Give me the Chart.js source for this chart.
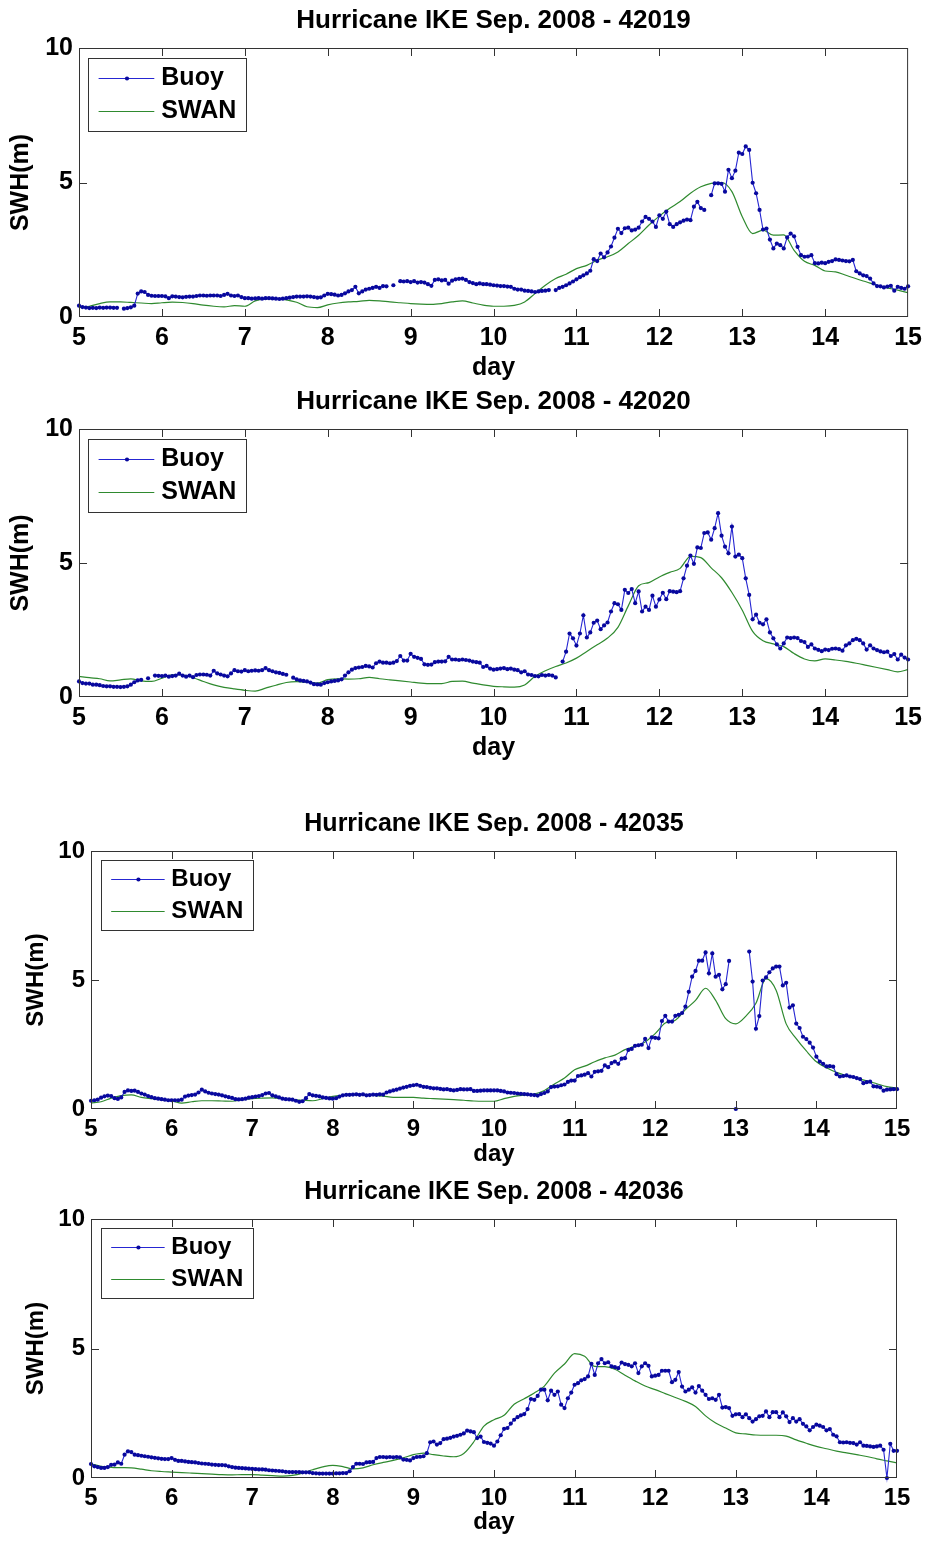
<!DOCTYPE html>
<html>
<head>
<meta charset="utf-8">
<title>Hurricane IKE Sep. 2008 - SWH</title>
<script src="https://cdn.jsdelivr.net/npm/chart.js@4.4.1/dist/chart.umd.min.js"></script>
<style>
  body { margin: 0; background: #fff; }
  #fig { position: relative; width: 928px; height: 1542px; background: #fff; }
  #fig canvas { position: absolute; left: 0; }
</style>
</head>
<body>
<div id="fig">
  <canvas id="c42019" width="928" height="385" style="top:0px"></canvas>
  <canvas id="c42020" width="928" height="390" style="top:385px"></canvas>
  <canvas id="c42035" width="928" height="397" style="top:775px"></canvas>
  <canvas id="c42036" width="928" height="370" style="top:1172px"></canvas>
</div>
<script>
var FONT = "'Liberation Sans', Arial, Helvetica, sans-serif";
Chart.defaults.font.family = FONT;
Chart.defaults.font.weight = 'bold';
Chart.defaults.color = '#000';

var START_DAY = 5;
var BUOY_STEP = 1 / 24;   // hourly buoy record
var SWAN_STEP = 1 / 8;    // 3-hourly SWAN output

var dayTicks = [5, 6, 7, 8, 9, 10, 11, 12, 13, 14, 15];
var swhTicks = [0, 5, 10];

// ---- station 42019 ----
var buoy42019 = [
  0.42,0.37,0.35,0.33,0.34,0.33,0.35,0.34,0.35,0.35,0.34,0.34,null,0.31,0.33,0.36,0.42,0.87,0.95,0.93,0.82,0.79,0.78,0.78,
  0.78,0.77,0.70,0.77,0.76,0.74,0.73,0.75,0.76,0.76,0.78,0.80,0.80,0.79,0.80,0.80,0.80,0.78,0.82,0.86,0.80,0.78,0.80,0.74,
  0.70,0.70,0.68,0.69,0.70,0.68,0.70,0.70,0.69,0.68,0.67,0.68,0.70,0.72,0.74,0.76,0.76,0.76,0.77,0.76,0.74,0.72,0.73,0.80,
  0.86,0.85,0.83,0.80,0.82,0.88,0.95,1.00,1.12,0.88,0.95,1.02,1.05,1.08,1.12,1.08,1.15,1.14,null,1.18,null,1.33,1.32,1.33,
  1.30,1.33,1.28,1.30,1.28,1.22,1.16,1.38,1.40,1.36,1.38,1.24,1.35,1.40,1.42,1.43,1.38,1.30,1.26,1.22,1.25,1.22,1.22,1.20,
  1.18,1.17,1.15,1.15,1.13,1.12,1.05,1.02,1.02,0.98,0.97,0.95,0.93,0.95,0.97,0.98,1.00,null,1.00,1.08,1.12,1.18,1.25,1.32,
  1.40,1.48,1.55,1.62,1.72,2.15,2.08,2.36,2.22,2.40,2.62,2.95,3.28,3.12,3.30,3.32,3.22,3.25,3.32,3.55,3.72,3.65,3.55,3.35,
  3.78,3.65,3.92,3.45,3.35,3.45,3.52,3.58,3.62,3.60,4.10,4.28,4.05,3.98,null,4.53,4.97,4.97,4.95,4.66,5.47,5.16,5.44,6.11,
  6.06,6.34,6.21,4.99,4.60,3.98,3.25,3.29,2.88,2.55,2.73,2.67,2.55,2.96,3.10,3.00,2.61,2.30,2.24,2.25,2.30,2.00,1.99,2.02,
  2.00,2.05,2.08,2.14,2.12,2.10,2.08,2.07,2.12,1.70,1.62,1.55,1.52,1.43,1.25,1.15,1.14,1.10,1.13,1.16,0.98,1.12,1.08,1.05,
  1.14
];
var swan42019 = [
  0.35,0.40,0.50,0.56,0.56,0.54,0.52,0.50,
  0.53,0.55,0.54,0.50,0.44,0.40,0.38,0.42,
  0.40,0.60,0.67,0.68,0.64,0.55,0.38,0.35,
  0.45,0.52,0.56,0.58,0.62,0.60,0.56,0.53,
  0.50,0.48,0.47,0.50,0.56,0.60,0.52,0.44,
  0.40,0.40,0.43,0.56,0.87,1.18,1.43,1.59,
  1.80,1.92,2.11,2.24,2.42,2.73,3.04,3.42,
  3.75,4.04,4.29,4.60,4.84,4.97,5.00,4.66,
  3.73,3.10,3.23,3.04,3.05,2.48,2.07,1.92,
  1.71,1.68,1.55,1.42,1.30,1.18,1.08,1.00,
  0.90
];

// ---- station 42020 ----
var buoy42020 = [
  0.58,0.52,0.50,0.50,0.46,0.46,0.44,0.41,0.40,0.40,0.38,0.38,0.37,0.38,0.40,0.46,0.55,0.62,0.64,null,0.70,null,0.80,0.79,
  0.78,0.80,0.76,0.78,0.80,0.87,0.80,0.76,0.80,0.74,0.82,0.84,0.84,0.83,0.80,0.98,0.88,0.84,0.80,0.77,0.88,1.00,0.96,0.95,
  1.00,0.96,0.98,0.99,0.98,1.00,1.08,1.00,0.96,0.92,0.90,0.86,0.83,null,0.72,0.66,0.62,0.60,0.58,0.54,0.48,0.47,0.46,0.52,
  0.55,0.58,0.60,0.62,0.66,0.80,0.92,1.02,1.08,1.10,1.12,1.16,1.14,1.10,1.26,1.32,1.28,1.28,1.26,1.28,1.34,1.53,1.36,1.36,
  1.61,1.50,1.46,1.42,1.22,1.20,1.21,1.30,1.32,1.32,1.33,1.50,1.40,1.40,1.38,1.40,1.38,1.36,1.32,1.30,1.28,1.12,1.16,1.06,
  1.02,1.04,1.06,1.08,1.04,1.06,1.02,1.00,0.92,0.96,0.84,0.82,0.78,0.77,0.82,0.80,0.82,0.80,0.73,null,1.32,1.69,2.37,2.19,
  1.92,2.37,3.05,2.22,2.41,2.77,2.85,2.53,2.67,2.78,3.19,3.50,3.46,3.25,4.00,3.88,4.03,3.50,3.94,3.19,3.37,3.25,3.78,3.37,
  3.64,3.89,3.65,3.95,3.93,3.91,3.95,4.43,4.90,5.28,4.97,5.58,5.56,6.12,6.14,5.87,6.30,6.86,6.02,5.61,5.36,6.36,5.24,5.31,
  5.18,4.43,3.81,2.90,3.07,2.77,2.71,2.90,2.41,2.19,1.96,1.81,2.00,2.22,2.20,2.22,2.20,2.09,2.05,1.87,1.96,1.81,1.76,1.71,
  1.77,1.75,1.80,1.81,1.79,1.73,1.93,2.00,2.12,2.17,2.12,2.00,1.77,1.93,1.81,1.75,1.70,1.67,1.69,1.53,1.60,1.40,1.58,1.47,
  1.40
];
var swan42020 = [
  0.77,0.72,0.68,0.60,0.64,0.68,0.60,0.58,
  0.70,0.83,0.82,0.72,0.58,0.45,0.36,0.30,
  0.25,0.22,0.33,0.44,0.54,0.57,0.55,0.52,
  0.65,0.68,0.67,0.68,0.73,0.68,0.64,0.60,
  0.56,0.52,0.50,0.50,0.58,0.59,0.52,0.45,
  0.40,0.38,0.37,0.45,0.77,0.98,1.14,1.27,
  1.45,1.70,1.95,2.20,2.60,3.40,4.15,4.27,
  4.48,4.65,4.80,5.25,5.20,4.82,4.45,3.90,
  3.24,2.45,2.10,1.98,1.88,1.62,1.42,1.35,
  1.42,1.38,1.33,1.26,1.18,1.10,1.02,0.94,
  1.02
];

// ---- station 42035 ----
var buoy42035 = [
  0.32,0.34,0.36,0.44,0.49,0.52,0.50,0.42,0.39,0.45,0.66,0.72,0.70,0.71,0.66,0.60,0.56,0.50,0.46,0.42,0.40,0.38,0.36,0.34,
  0.34,0.34,0.34,0.36,0.48,0.52,0.54,0.56,0.64,0.75,0.68,0.63,0.60,0.58,0.56,0.53,0.49,0.46,0.43,0.38,0.37,0.38,0.40,0.44,
  0.46,0.48,0.50,0.54,0.60,0.62,0.53,0.49,0.45,0.40,0.38,0.37,0.36,0.32,0.28,0.30,0.42,0.58,0.53,0.51,0.49,0.45,0.43,0.41,
  0.40,0.42,0.48,0.53,0.55,0.55,0.56,0.57,0.55,0.57,0.53,0.54,0.56,0.55,0.57,0.56,0.64,0.68,0.72,0.75,0.79,0.83,0.86,0.90,
  0.92,0.94,0.90,0.86,0.85,0.82,0.80,0.80,0.78,0.76,0.77,0.74,0.72,0.74,0.77,0.76,0.76,0.77,0.70,0.70,0.71,0.72,0.72,0.72,
  0.72,0.72,0.70,0.68,0.64,0.63,0.62,0.60,0.59,0.58,0.57,0.55,0.54,0.52,0.58,0.62,0.68,0.85,0.87,0.88,0.92,0.95,1.05,1.10,
  1.10,1.28,1.30,1.33,1.39,1.26,1.44,1.46,1.48,1.69,1.62,1.78,1.84,1.75,1.95,1.97,2.29,2.33,2.45,2.47,2.49,2.72,2.36,2.78,
  2.76,2.74,3.41,3.61,3.39,3.39,3.61,3.65,3.72,3.97,4.54,5.13,5.35,5.75,5.75,6.07,5.26,6.03,5.13,5.20,4.64,4.84,5.74,null,
  0.00,null,null,null,6.10,4.94,3.11,3.60,4.98,5.10,5.30,5.45,5.52,5.52,4.79,4.89,3.93,4.02,3.31,3.14,2.80,2.71,2.57,2.38,
  2.03,1.84,1.75,1.65,1.66,1.64,1.35,1.26,1.28,1.30,1.26,1.24,1.20,1.16,1.00,1.04,1.06,0.88,0.87,0.84,0.71,0.75,0.76,0.77,
  0.77
];
var swan42035 = [
  0.23,0.28,0.42,0.52,0.55,0.45,0.40,0.36,
  0.32,0.23,0.28,0.32,0.32,0.31,0.30,0.35,
  0.40,0.42,0.43,0.40,0.36,0.34,0.32,0.40,
  0.49,0.53,0.55,0.55,0.53,0.50,0.45,0.45,
  0.45,0.42,0.40,0.38,0.36,0.34,0.31,0.30,
  0.30,0.40,0.49,0.54,0.58,0.72,0.97,1.20,
  1.52,1.66,1.83,1.98,2.09,2.30,2.44,2.60,
  2.92,3.33,3.44,3.85,4.21,4.68,4.21,3.50,
  3.30,3.60,4.10,5.05,4.60,3.30,2.73,2.25,
  1.83,1.60,1.42,1.29,1.19,1.09,0.98,0.87,
  0.81
];

// ---- station 42036 ----
var buoy42036 = [
  0.54,0.45,0.42,0.39,0.39,0.42,0.51,0.52,0.60,0.55,0.90,1.03,1.00,0.90,0.88,0.86,0.84,0.82,0.80,0.78,0.76,0.74,0.73,0.73,
  0.77,0.70,0.66,0.66,0.64,0.62,0.61,0.60,0.58,0.56,0.55,0.54,0.52,0.51,0.50,0.50,0.49,0.45,0.42,0.40,0.39,0.38,0.37,0.36,
  0.35,0.34,0.33,0.33,0.32,0.30,0.29,0.28,0.27,0.26,0.24,0.23,0.23,0.23,0.23,0.22,0.22,0.22,0.19,0.18,0.17,0.17,0.17,0.17,
  0.17,0.18,0.18,0.19,0.19,0.26,0.42,0.55,0.55,0.54,0.60,0.61,0.62,0.77,0.81,0.81,0.80,0.81,0.80,0.81,0.80,0.71,0.70,0.68,
  0.77,0.81,0.82,0.84,0.96,1.38,1.41,1.29,1.35,1.50,1.52,1.55,1.60,1.63,1.67,1.72,1.83,1.80,1.77,1.54,1.60,1.39,1.36,1.33,
  1.25,1.41,1.65,1.90,1.93,2.10,2.25,2.35,2.42,2.47,2.66,3.05,3.02,3.17,3.41,3.41,3.00,3.37,3.21,3.34,2.83,2.70,3.08,3.30,
  3.60,3.66,3.77,3.82,3.92,4.41,3.98,4.43,4.59,4.43,4.47,4.31,4.28,4.24,4.46,4.40,4.37,4.31,4.43,4.05,4.31,4.43,4.33,3.92,
  3.95,3.98,4.14,4.14,4.14,3.70,3.79,4.09,3.53,3.34,3.41,3.50,3.30,3.55,3.37,3.21,3.05,3.08,3.02,3.21,2.72,2.74,2.70,2.40,
  2.46,2.47,2.35,2.46,2.31,2.18,2.27,2.38,2.40,2.57,2.35,2.54,2.54,2.35,2.53,2.38,2.16,2.31,2.18,2.27,2.09,1.99,1.84,1.97,
  2.06,2.02,1.97,1.84,1.89,1.67,1.61,1.38,1.37,1.38,1.36,1.35,1.29,1.38,1.25,1.24,1.22,1.20,1.22,1.25,1.09,0.00,1.32,1.05,
  1.05
];
var swan42036 = [
  0.55,0.45,0.41,0.40,0.39,0.34,0.28,0.25,
  0.23,0.21,0.19,0.17,0.15,0.13,0.12,0.13,
  0.13,0.11,0.09,0.07,0.10,0.19,0.32,0.43,
  0.49,0.44,0.35,0.39,0.51,0.60,0.68,0.78,
  0.90,0.96,0.90,0.85,0.82,0.95,1.40,2.00,
  2.25,2.42,2.85,3.06,3.28,3.55,4.05,4.40,
  4.80,4.70,4.31,4.30,4.20,3.97,3.75,3.55,
  3.41,3.26,3.11,2.96,2.76,2.40,2.12,1.93,
  1.74,1.70,1.66,1.65,1.65,1.62,1.47,1.34,
  1.22,1.13,1.04,0.97,0.90,0.83,0.74,0.66,
  0.58
];

var BUOY_LINE = '#2626d2';
var BUOY_DOT = '#08089e';
var SWAN_LINE = '#2f8a2f';
var AXIS_COLOR = '#333';
var TICK_LEN = 8;

// page layout of each subplot (canvas band + axes box in page pixels)
var panels = [
  { canvas: 'c42019', title: 'Hurricane IKE Sep. 2008 - 42019', buoy: buoy42019, swan: swan42019,
    canvasTop: 0, canvasH: 385, left: 79, right: 912, top: 48, bottom: 317,
    font: 25, titleFont: 26, yTitlePad: 6.6, dayPad: 1.7, legendDx: 9, legendDy: 10 },
  { canvas: 'c42020', title: 'Hurricane IKE Sep. 2008 - 42020', buoy: buoy42020, swan: swan42020,
    canvasTop: 385, canvasH: 390, left: 79, right: 912, top: 429, bottom: 697,
    font: 25, titleFont: 26, yTitlePad: 6.6, dayPad: 12, legendDx: 9, legendDy: 10 },
  { canvas: 'c42035', title: 'Hurricane IKE Sep. 2008 - 42035', buoy: buoy42035, swan: swan42035,
    canvasTop: 775, canvasH: 397, left: 91, right: 897, top: 851, bottom: 1109,
    font: 24, titleFont: 25, yTitlePad: 22.3, dayPad: 3.2, legendDx: 9.5, legendDy: 9.3 },
  { canvas: 'c42036', title: 'Hurricane IKE Sep. 2008 - 42036', buoy: buoy42036, swan: swan42036,
    canvasTop: 1172, canvasH: 370, left: 91, right: 897, top: 1219, bottom: 1478,
    font: 24, titleFont: 25, yTitlePad: 22.3, dayPad: 4.9, legendDx: 9.5, legendDy: 9.3 }
];

function toPoints(values, step) {
  return values.map(function (v, i) {
    return { x: START_DAY + i * step, y: v };
  });
}

// boxed axes with inward ticks, the title above and the legend inside
var matlabFrame = {
  id: 'matlabFrame',
  afterDraw: function (chart, args, opts) {
    var ctx = chart.ctx;
    var a = chart.chartArea;
    var xs = chart.scales.x;
    var ys = chart.scales.y;

    ctx.save();
    ctx.strokeStyle = AXIS_COLOR;
    ctx.lineWidth = 1;
    ctx.strokeRect(a.left + 0.5, a.top + 0.5, a.right - a.left - 1, a.bottom - a.top - 1);

    ctx.beginPath();
    xs.ticks.forEach(function (t) {
      if (t.value <= xs.min || t.value >= xs.max) return;
      var px = Math.round(xs.getPixelForValue(t.value)) + 0.5;
      ctx.moveTo(px, a.bottom);
      ctx.lineTo(px, a.bottom - TICK_LEN);
      ctx.moveTo(px, a.top);
      ctx.lineTo(px, a.top + TICK_LEN);
    });
    ys.ticks.forEach(function (t) {
      if (t.value <= ys.min || t.value >= ys.max) return;
      var py = Math.round(ys.getPixelForValue(t.value)) + 0.5;
      ctx.moveTo(a.left, py);
      ctx.lineTo(a.left + TICK_LEN, py);
      ctx.moveTo(a.right, py);
      ctx.lineTo(a.right - TICK_LEN, py);
    });
    ctx.stroke();

    // title
    ctx.fillStyle = '#000';
    ctx.font = 'bold ' + opts.titleFont + 'px ' + FONT;
    ctx.textAlign = 'center';
    ctx.textBaseline = 'alphabetic';
    ctx.fillText(opts.title, (a.left + a.right) / 2, a.top - 20.5);

    // legend
    var k = opts.font / 25;
    var bx = Math.round(a.left + opts.legendDx);
    var by = Math.round(a.top + opts.legendDy);
    var bw = Math.round(158 * k);
    var bh = Math.round(73 * k);
    ctx.fillStyle = '#fff';
    ctx.fillRect(bx, by, bw, bh);
    ctx.strokeStyle = AXIS_COLOR;
    ctx.lineWidth = 1;
    ctx.strokeRect(bx + 0.5, by + 0.5, bw, bh);

    ctx.font = 'bold ' + opts.font + 'px ' + FONT;
    ctx.textAlign = 'left';
    ctx.textBaseline = 'middle';
    chart.data.datasets.forEach(function (ds, i) {
      var rowY = Math.round(by + (i === 0 ? 20 : 52.7) * k) + 0.5;
      ctx.strokeStyle = ds.borderColor;
      ctx.lineWidth = ds.borderWidth;
      ctx.beginPath();
      ctx.moveTo(bx + 10.6 * k, rowY);
      ctx.lineTo(bx + 66.3 * k, rowY);
      ctx.stroke();
      if (ds.pointRadius > 0) {
        ctx.fillStyle = ds.pointBackgroundColor;
        ctx.beginPath();
        ctx.arc(bx + 39 * k, rowY, ds.pointRadius, 0, Math.PI * 2);
        ctx.fill();
      }
      ctx.fillStyle = '#000';
      ctx.fillText(ds.label, bx + 73.3 * k, rowY);
    });
    ctx.restore();
  }
};

function drawPanel(p) {
  var canvasElem = document.getElementById(p.canvas);
  var xAxisH = p.canvasH - (p.bottom - p.canvasTop);

  return new Chart(canvasElem.getContext('2d'), {
    type: 'line',
    data: {
      datasets: [
        {
          label: 'Buoy',
          data: toPoints(p.buoy, BUOY_STEP),
          borderColor: BUOY_LINE,
          borderWidth: 1.1,
          pointRadius: 2.1,
          pointBackgroundColor: BUOY_DOT,
          pointBorderWidth: 0,
          pointHoverRadius: 2.1,
          tension: 0,
          spanGaps: false,
          clip: false
        },
        {
          label: 'SWAN',
          data: toPoints(p.swan, SWAN_STEP),
          borderColor: SWAN_LINE,
          borderWidth: 1.2,
          pointRadius: 0,
          cubicInterpolationMode: 'monotone'
        }
      ]
    },
    options: {
      responsive: false,
      animation: false,
      devicePixelRatio: 1,
      layout: {
        padding: { left: 0, right: 928 - p.right, top: p.top - p.canvasTop, bottom: 0 }
      },
      plugins: {
        legend: { display: false },
        tooltip: { enabled: false },
        matlabFrame: {
          title: p.title, titleFont: p.titleFont, font: p.font,
          legendDx: p.legendDx, legendDy: p.legendDy
        }
      },
      scales: {
        x: {
          type: 'linear',
          min: dayTicks[0],
          max: dayTicks[dayTicks.length - 1],
          afterBuildTicks: function (scale) {
            scale.ticks = dayTicks.map(function (v) { return { value: v }; });
          },
          afterFit: function (scale) { scale.height = xAxisH; },
          grid: { display: false, drawTicks: false },
          border: { display: false },
          ticks: {
            autoSkip: false, maxRotation: 0, padding: 6,
            color: '#000', font: { size: p.font, weight: 'bold' }
          },
          title: {
            display: true, text: 'day', color: '#000',
            font: { size: p.font, weight: 'bold' },
            padding: { top: 0, bottom: p.dayPad }
          }
        },
        y: {
          type: 'linear',
          min: swhTicks[0],
          max: swhTicks[swhTicks.length - 1],
          afterBuildTicks: function (scale) {
            scale.ticks = swhTicks.map(function (v) { return { value: v }; });
          },
          afterFit: function (scale) { scale.width = p.left; },
          grid: { display: false, drawTicks: false },
          border: { display: false },
          ticks: {
            padding: 6,
            color: '#000', font: { size: p.font, weight: 'bold' }
          },
          title: {
            display: true, text: 'SWH(m)', color: '#000',
            font: { size: p.font, weight: 'bold' },
            padding: { top: p.yTitlePad, bottom: 0 }
          }
        }
      }
    },
    plugins: [matlabFrame]
  });
}

panels.forEach(drawPanel);
</script>
</body>
</html>
